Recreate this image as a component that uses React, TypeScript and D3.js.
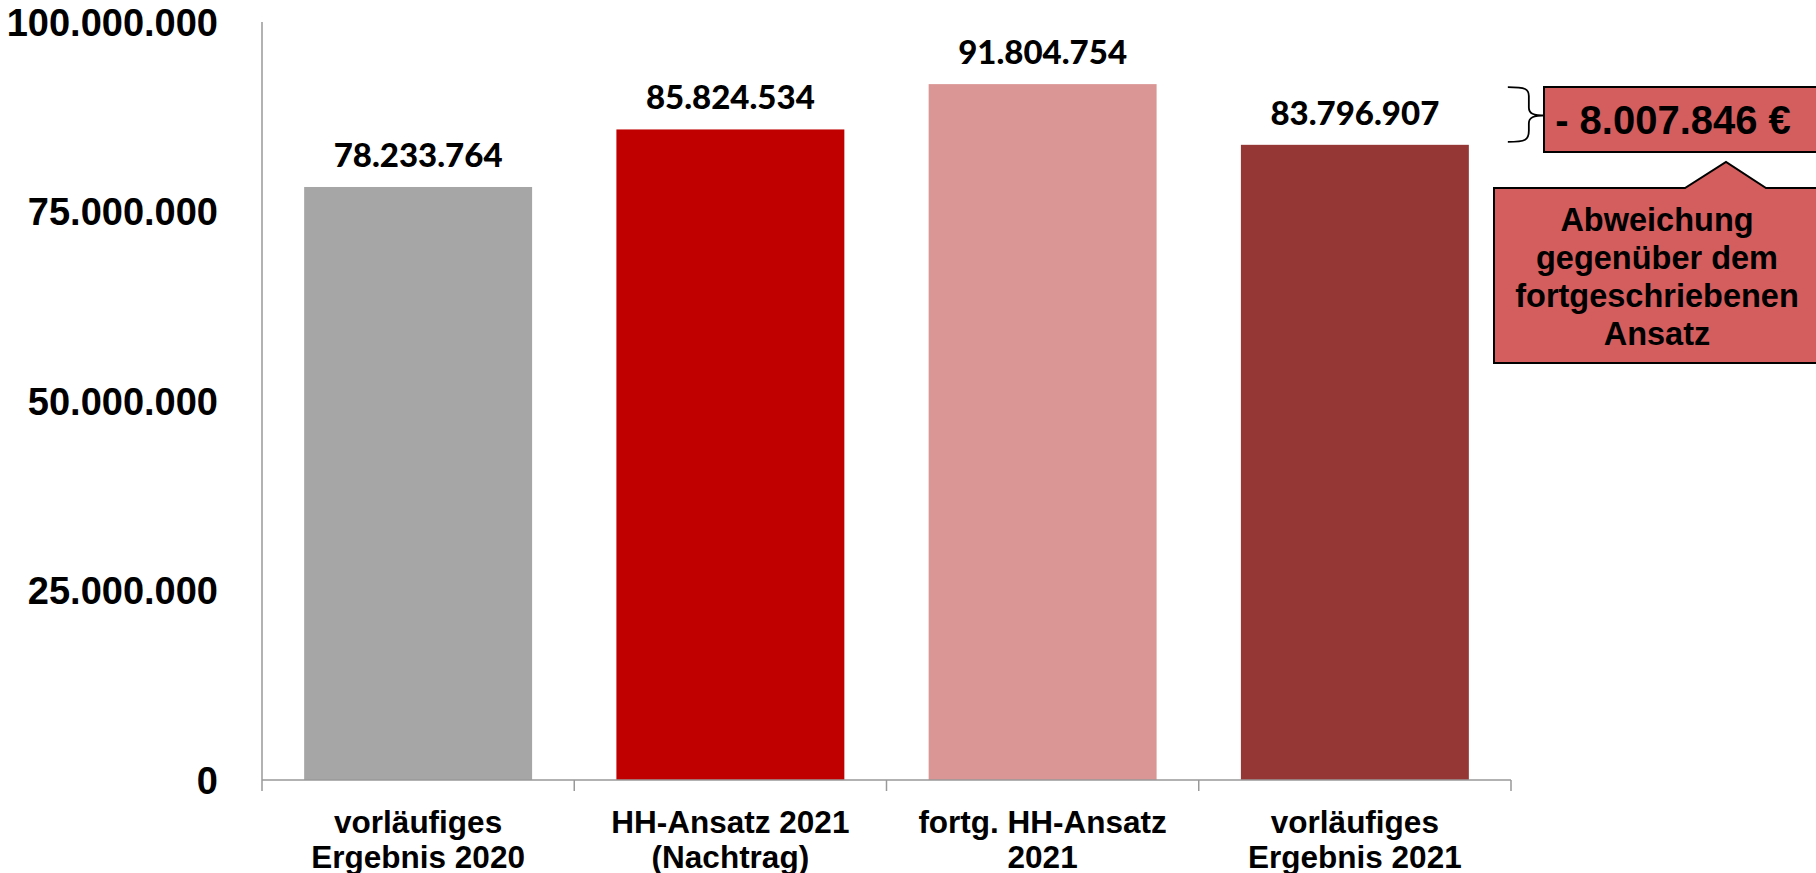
import React from "react";
import * as d3 from "d3";

const categories = [
  ["vorläufiges", "Ergebnis 2020"],
  ["HH-Ansatz 2021", "(Nachtrag)"],
  ["fortg. HH-Ansatz", "2021"],
  ["vorläufiges", "Ergebnis 2021"],
];
const values = [78233764, 85824534, 91804754, 83796907];
const barColors = ["#A6A6A6", "#C00000", "#DA9694", "#953735"];
const yTicks = [0, 25000000, 50000000, 75000000, 100000000];
const deviationLabel = "- 8.007.846 €";
const calloutLines = ["Abweichung", "gegenüber dem", "fortgeschriebenen", "Ansatz"];

const W = 1816;
const H = 873;
const axisFont = "'Liberation Sans', Arial, sans-serif";
const valueFont = "Lato, 'Open Sans', sans-serif";

const fmt = (v: number) => d3.format(",")(v).replace(/,/g, ".");

export default function App() {
  const x = d3
    .scaleBand<number>()
    .domain(d3.range(categories.length))
    .range([262, 1511])
    .paddingInner(0.27)
    .paddingOuter(0.135);
  const y = d3.scaleLinear().domain([0, 100000000]).range([780, 22]);
  const step = x.step();
  const boundaries = d3.range(categories.length + 1).map((i) => 262 + i * step);

  // annotation geometry, anchored to the last two bars
  const hiY = y(values[2]);
  const loY = y(values[3]);
  const midY = (hiY + loY) / 2 + 1;
  const bx = x(3)! + x.bandwidth() + 72;

  return (
    <svg width={W} height={H} style={{ position: "absolute", left: 0, top: 0, background: "#fff" }}>
      {/* bars */}
      {values.map((v, i) => (
        <rect key={i} x={x(i)} y={y(v)} width={x.bandwidth()} height={y(0) - y(v)} fill={barColors[i]} />
      ))}
      {/* axes */}
      <line x1={262} x2={262} y1={y(100000000)} y2={y(0)} stroke="#999" strokeWidth={1.5} />
      <line x1={262} x2={1511} y1={y(0)} y2={y(0)} stroke="#999" strokeWidth={1.5} />
      {boundaries.map((b, i) => (
        <line key={i} x1={b} x2={b} y1={y(0)} y2={y(0) + 11} stroke="#999" strokeWidth={1.5} />
      ))}
      {yTicks.map((t) => (
        <text key={t} x={218} y={y(t)} dy="0.36em" textAnchor="end" fontFamily={axisFont} fontWeight="bold" fontSize={38}>
          {fmt(t)}
        </text>
      ))}
      {categories.map((lines, i) =>
        lines.map((l, j) => (
          <text
            key={i + "-" + j}
            x={x(i)! + x.bandwidth() / 2}
            y={833 + j * 35}
            textAnchor="middle"
            fontFamily={axisFont}
            fontWeight="bold"
            fontSize={31.5}
          >
            {l}
          </text>
        ))
      )}
      {/* value labels */}
      {values.map((v, i) => (
        <text
          key={i}
          x={x(i)! + x.bandwidth() / 2}
          y={y(v) - 20}
          textAnchor="middle"
          fontFamily={valueFont}
          fontWeight="900"
          fontSize={33}
        >
          {fmt(v)}
        </text>
      ))}
      {/* brace */}
      <path
        d={`M${bx - 33},${hiY + 3} C${bx - 15},${hiY + 3} ${bx - 12},${hiY + 5} ${bx - 12},${hiY + 12} L${bx - 12},${midY - 8} C${bx - 12},${midY - 2} ${bx - 8},${midY} ${bx + 5},${midY} C${bx - 8},${midY} ${bx - 12},${midY + 2} ${bx - 12},${midY + 8} L${bx - 12},${loY - 14} C${bx - 12},${loY - 5} ${bx - 15},${loY - 3} ${bx - 33},${loY - 3}`}
        fill="none"
        stroke="#000"
        strokeWidth={1.8}
      />
      <line x1={bx + 5} x2={1544} y1={midY} y2={midY} stroke="#000" strokeWidth={1.8} />
      {/* deviation box */}
      <rect x={1544} y={87} width={290} height={65} fill="#D45D5D" stroke="#000" strokeWidth={2} />
      <text x={1673} y={120} dy="0.36em" textAnchor="middle" fontFamily={axisFont} fontWeight="bold" fontSize={40}>
        {deviationLabel}
      </text>
      {/* callout */}
      <path
        d="M1494,188 L1685,188 L1726,162 L1766,188 L1830,188 L1830,363 L1494,363 Z"
        fill="#D45D5D"
        stroke="#000"
        strokeWidth={2}
      />
      {calloutLines.map((l, i) => (
        <text
          key={i}
          x={1657}
          y={219 + i * 38}
          dy="0.36em"
          textAnchor="middle"
          fontFamily={axisFont}
          fontWeight="bold"
          fontSize={32.5}
        >
          {l}
        </text>
      ))}
    </svg>
  );
}
